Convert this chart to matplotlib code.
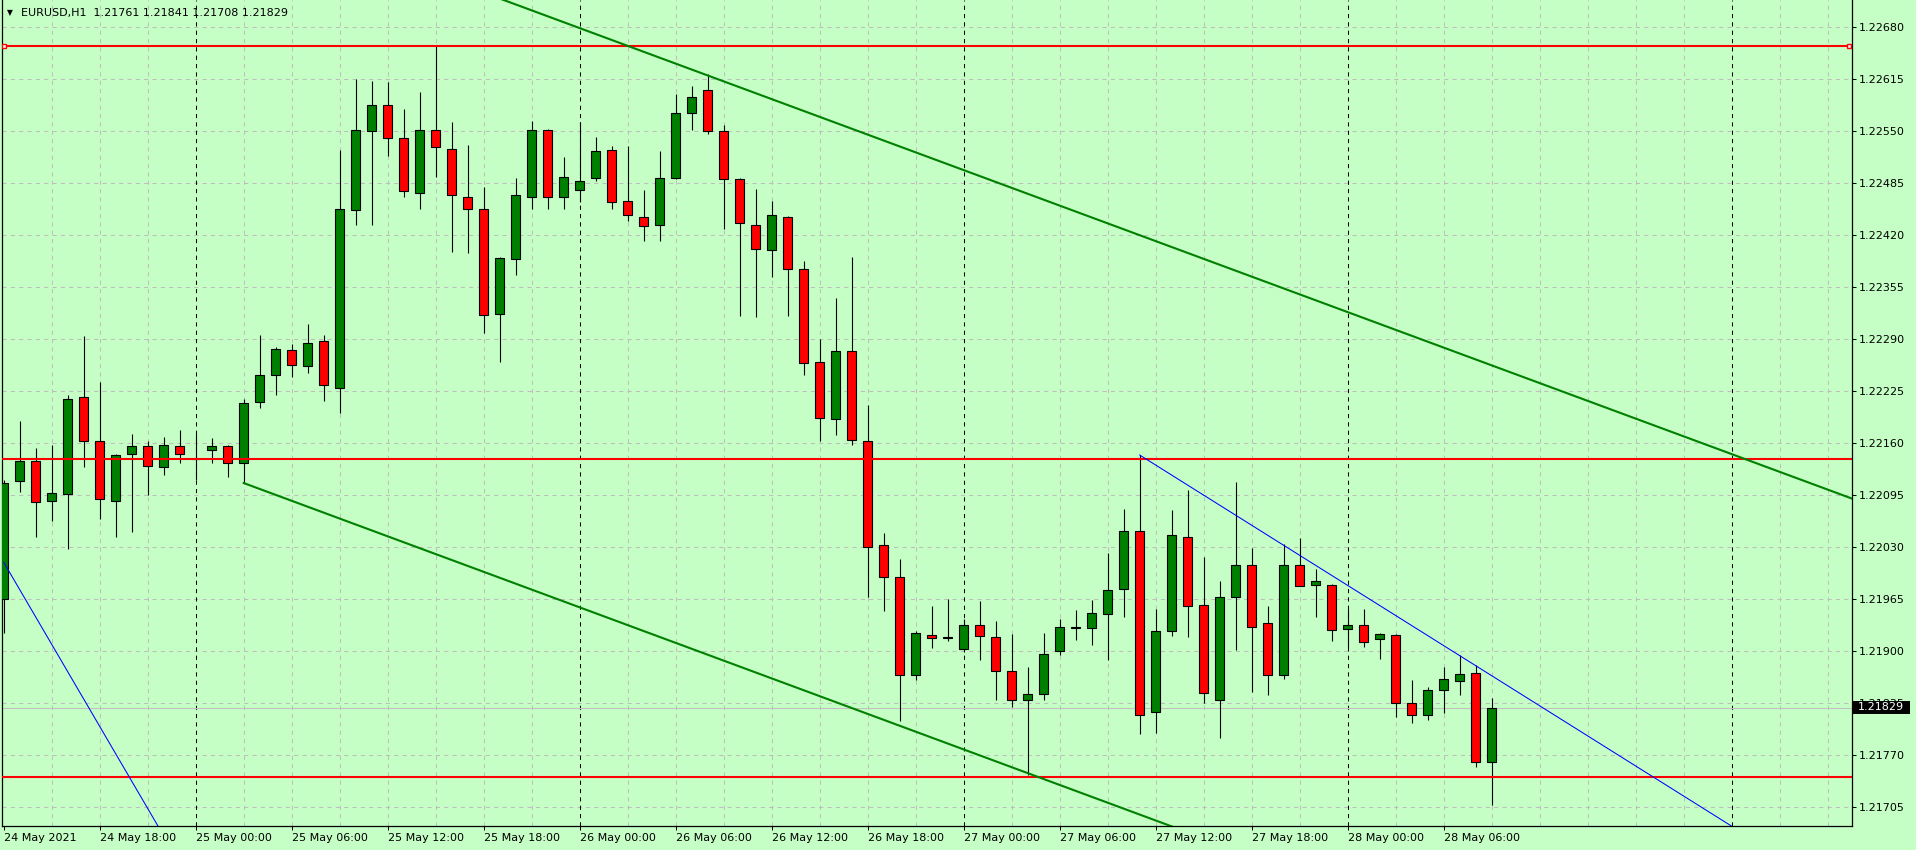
import matplotlib
matplotlib.use('Agg')
import matplotlib.pyplot as plt
from matplotlib.patches import Rectangle
import numpy as np

plt.rcParams['font.family'] = ['DejaVu Sans']
plt.rcParams['font.size'] = 8

# EURUSD H1 bars, 24 May 2021 12:00 .. 28 May 2021 09:00
opens = [1.21965, 1.22112, 1.22137, 1.22088, 1.22096, 1.22217, 1.22163, 1.22087, 1.22146, 1.22156,
         1.22130, 1.22156, 1.22140, 1.22151, 1.22156, 1.22135, 1.22211, 1.22245, 1.22276, 1.22256,
         1.22287, 1.22229, 1.22451, 1.22550, 1.22582, 1.22541, 1.22473, 1.22551, 1.22528, 1.22468,
         1.22452, 1.22321, 1.22390, 1.22468, 1.22551, 1.22467, 1.22476, 1.22491, 1.22526, 1.22462,
         1.22443, 1.22432, 1.22491, 1.22572, 1.22601, 1.22550, 1.22490, 1.22433, 1.22401, 1.22443,
         1.22378, 1.22261, 1.22190, 1.22275, 1.22162, 1.22032, 1.21992, 1.21870, 1.21920, 1.21916,
         1.21903, 1.21933, 1.21918, 1.21875, 1.21839, 1.21846, 1.21900, 1.21929, 1.21929, 1.21946,
         1.21978, 1.22050, 1.21824, 1.21925, 1.22043, 1.21958, 1.21839, 1.21968, 1.22008, 1.21935,
         1.21870, 1.22007, 1.21982, 1.21983, 1.21928, 1.21933, 1.21915, 1.21920, 1.21835, 1.21820,
         1.21851, 1.21863, 1.21872, 1.21761]
highs = [1.22114, 1.22187, 1.22154, 1.22157, 1.22220, 1.22294, 1.22236, 1.22146, 1.22171, 1.22163,
         1.22168, 1.22176, 1.22171, 1.22166, 1.22157, 1.22215, 1.22295, 1.22280, 1.22284, 1.22309,
         1.22295, 1.22526, 1.22615, 1.22612, 1.22611, 1.22578, 1.22599, 1.22656, 1.22561, 1.22533,
         1.22480, 1.22392, 1.22491, 1.22563, 1.22553, 1.22517, 1.22561, 1.22542, 1.22531, 1.22531,
         1.22476, 1.22525, 1.22596, 1.22606, 1.22621, 1.22557, 1.22491, 1.22478, 1.22462, 1.22444,
         1.22388, 1.22290, 1.22341, 1.22392, 1.22208, 1.22048, 1.22015, 1.21925, 1.21956, 1.21965,
         1.21940, 1.21963, 1.21938, 1.21921, 1.21880, 1.21923, 1.21940, 1.21951, 1.21964, 1.22022,
         1.22078, 1.22145, 1.21953, 1.22076, 1.22101, 1.22017, 1.21987, 1.22111, 1.22029, 1.21956,
         1.22034, 1.22041, 1.22002, 1.21984, 1.21953, 1.21953, 1.21923, 1.21921, 1.21864, 1.21855,
         1.21880, 1.21895, 1.21882, 1.21841]
lows = [1.21923, 1.22099, 1.22042, 1.22062, 1.22028, 1.22130, 1.22065, 1.22042, 1.22049, 1.22095,
        1.22120, 1.22135, 1.22114, 1.22135, 1.22117, 1.22110, 1.22204, 1.22220, 1.22242, 1.22247,
        1.22212, 1.22197, 1.22432, 1.22433, 1.22519, 1.22468, 1.22453, 1.22493, 1.22399, 1.22398,
        1.22298, 1.22261, 1.22370, 1.22453, 1.22453, 1.22452, 1.22461, 1.22487, 1.22452, 1.22438,
        1.22413, 1.22412, 1.22490, 1.22551, 1.22546, 1.22427, 1.22319, 1.22317, 1.22368, 1.22319,
        1.22245, 1.22162, 1.22170, 1.22158, 1.21968, 1.21950, 1.21812, 1.21864, 1.21904, 1.21913,
        1.21899, 1.21889, 1.21839, 1.21830, 1.21745, 1.21839, 1.21895, 1.21914, 1.21908, 1.21889,
        1.21943, 1.21796, 1.21797, 1.21919, 1.21918, 1.21835, 1.21791, 1.21901, 1.21849, 1.21845,
        1.21865, 1.21981, 1.21943, 1.21913, 1.21904, 1.21905, 1.21890, 1.21818, 1.21810, 1.21814,
        1.21822, 1.21845, 1.21755, 1.21708]
closes = [1.22110, 1.22137, 1.22086, 1.22097, 1.22215, 1.22162, 1.22090, 1.22145, 1.22156, 1.22131,
          1.22157, 1.22146, 1.22140, 1.22156, 1.22135, 1.22210, 1.22245, 1.22277, 1.22258, 1.22285,
          1.22232, 1.22452, 1.22551, 1.22582, 1.22541, 1.22475, 1.22551, 1.22530, 1.22470, 1.22453,
          1.22320, 1.22391, 1.22470, 1.22551, 1.22467, 1.22492, 1.22487, 1.22525, 1.22461, 1.22445,
          1.22431, 1.22491, 1.22572, 1.22592, 1.22550, 1.22490, 1.22435, 1.22402, 1.22445, 1.22377,
          1.22260, 1.22191, 1.22275, 1.22164, 1.22030, 1.21992, 1.21870, 1.21922, 1.21916, 1.21918,
          1.21932, 1.21919, 1.21875, 1.21839, 1.21846, 1.21896, 1.21930, 1.21930, 1.21948, 1.21976,
          1.22050, 1.21820, 1.21925, 1.22045, 1.21956, 1.21848, 1.21967, 1.22007, 1.21930, 1.21870,
          1.22008, 1.21981, 1.21987, 1.21926, 1.21933, 1.21911, 1.21921, 1.21835, 1.21820, 1.21851,
          1.21865, 1.21871, 1.21761, 1.21829]

time_labels = ['24 May 2021', '24 May 18:00', '25 May 00:00', '25 May 06:00', '25 May 12:00',
               '25 May 18:00', '26 May 00:00', '26 May 06:00', '26 May 12:00', '26 May 18:00',
               '27 May 00:00', '27 May 06:00', '27 May 12:00', '27 May 18:00', '28 May 00:00',
               '28 May 06:00']
label_bars = [0, 6, 12, 18, 24, 30, 36, 42, 48, 54, 60, 66, 72, 78, 84, 90]
day_bars = [12, 36, 60, 84, 108]
price_labels = ['1.21705', '1.21770', '1.21835', '1.21900', '1.21965', '1.22030', '1.22095',
                '1.22160', '1.22225', '1.22290', '1.22355', '1.22420', '1.22485', '1.22550',
                '1.22615', '1.22680']

# horizontal levels and trend lines (bar index, price)
red_levels = [1.22656, 1.22140, 1.21743]
channel_upper = ([25, 116], [1.22760, 1.22087])
channel_lower = ([15, 80], [1.22110, 1.21629])
blue_left = ([0, 10], [1.22011, 1.21669])
blue_right = ([71, 110], [1.22145, 1.21656])
last_price = 1.21829
title = 'EURUSD,H1  1.21761 1.21841 1.21708 1.21829'

bg = '#C6FFC6'
grid_c = '#BEBEBE'
W, H = 1916, 850

fig = plt.figure(figsize=(W / 100, H / 100), dpi=100, facecolor=bg)
ax = fig.add_axes([2 / W, 24 / H, 1850 / W, 826 / H])
ax.set_facecolor(bg)

ax.set_xlim((2 - 3.7) / 16, (1852 - 3.7) / 16)
ax.set_ylim(1.216813, 1.227138)

# grid
pticks = [float(p) for p in price_labels]
for p in pticks:
    ax.axhline(p, color=grid_c, lw=0.75, ls=(0, (4, 4)), zorder=0.5)
for b in range(3, 116, 3):
    if b not in day_bars:
        ax.axvline(b, color=grid_c, lw=0.75, ls=(0, (4, 4)), zorder=0.5)
for b in day_bars:
    ax.axvline(b, color='black', lw=0.75, ls=(0, (4, 4)), zorder=0.6)

# candles
x = np.arange(len(opens))
o = np.array(opens)
c = np.array(closes)
ax.vlines(x, lows, highs, color='black', lw=0.8, zorder=2)
up = c >= o
colors = np.where(up, '#008000', '#FF0000')
ax.bar(x, np.abs(c - o), bottom=np.minimum(o, c), width=0.57, color=colors,
       edgecolor='black', linewidth=0.8, zorder=3)

# bid line
ax.axhline(last_price, color='#C0C0C0', lw=0.75, zorder=1)

# objects
for lv in red_levels:
    ax.axhline(lv, color='#FF0000', lw=1.5, zorder=4)
ax.plot([0.0, 115.3], [red_levels[0], red_levels[0]], ls='none', marker='s', ms=3.5,
        mfc='white', mec='#FF0000', mew=1.0, zorder=5)
ax.plot(*channel_upper, color='#008000', lw=1.5, zorder=4)
ax.plot(*channel_lower, color='#008000', lw=1.5, zorder=4)
ax.plot(*blue_left, color='#0000FF', lw=0.75, zorder=4)
ax.plot(*blue_right, color='#0000FF', lw=0.75, zorder=4)

# axes styling
for s in ['top']:
    ax.spines[s].set_visible(False)
for s in ['left', 'right', 'bottom']:
    ax.spines[s].set_color('black')
    ax.spines[s].set_linewidth(0.9)

ax.yaxis.tick_right()
ax.set_yticks(pticks)
ax.set_yticklabels(price_labels)
ax.tick_params(axis='y', length=3, width=0.75, pad=2, labelsize=8, colors='black')
ax.set_xticks(label_bars)
ax.set_xticklabels(time_labels)
ax.tick_params(axis='x', length=3, width=0.75, pad=2, labelsize=8, colors='black')
for lab in ax.get_xticklabels():
    lab.set_horizontalalignment('left')

# last price box
fig.patches.append(Rectangle((1853 / W, 1 - 713.5 / H), 57 / W, 12.5 / H,
                             transform=fig.transFigure, facecolor='black', edgecolor='none', zorder=5))
fig.text(1858 / W, 1 - 707.5 / H, '%.5f' % last_price, color='white', fontsize=8,
         va='center', ha='left', zorder=6)

# title
fig.text(7 / W, 1 - 12.5 / H, '\u25BC', fontsize=5.5, va='center', ha='left')
fig.text(21 / W, 1 - 13 / H, title, fontsize=8, va='center', ha='left')

fig.savefig('out.png', dpi=100, facecolor=bg)
